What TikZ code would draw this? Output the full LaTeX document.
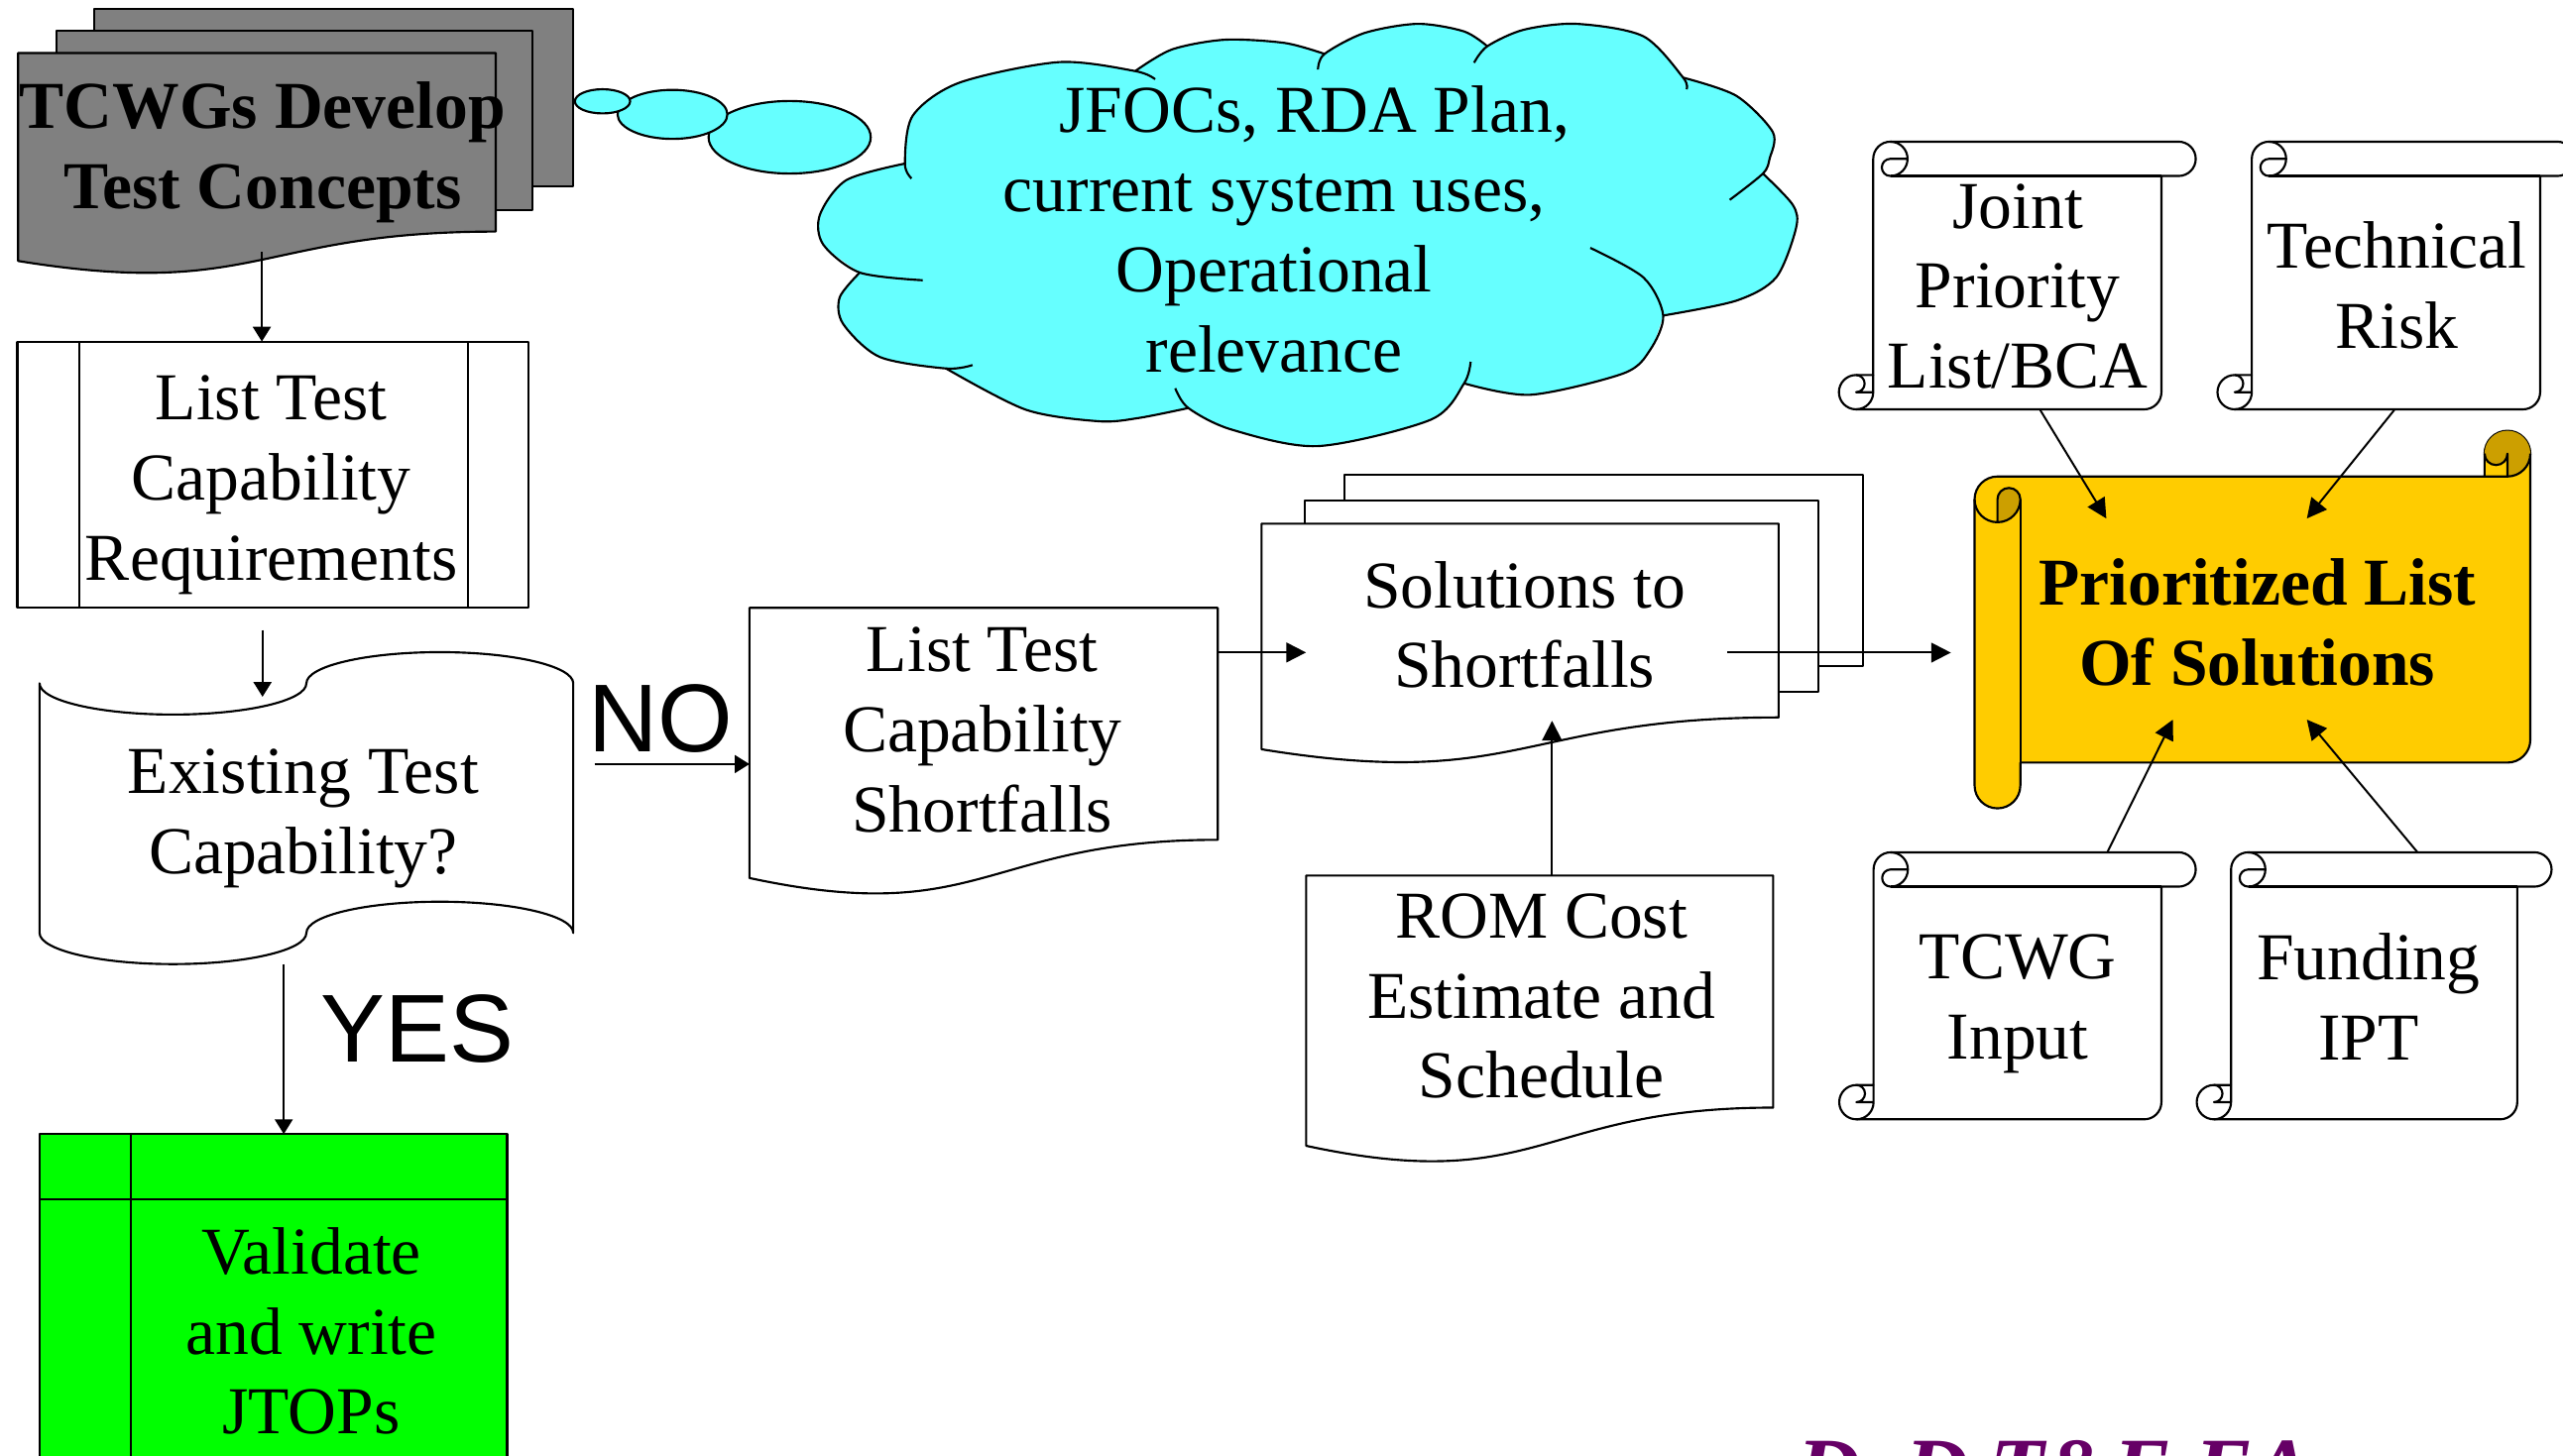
\documentclass[tikz,border=0pt]{standalone}
\usepackage{fontspec}
\setmainfont{Liberation Serif}
\newfontfamily\sansfont{Liberation Sans}
\usetikzlibrary{arrows.meta}

\definecolor{sheetgray}{HTML}{808080}
\definecolor{bubble}{HTML}{66FFFF}
\definecolor{scrollgold}{HTML}{FFCC00}
\definecolor{scrolldark}{HTML}{CC9F00}
\definecolor{storegreen}{HTML}{00FF00}
\definecolor{agency}{HTML}{660066}

% flowchart "document": left, top, right, height
\newcommand\docshape[5]{%
  \path[#1] (#2,#3) -- (#4,#3) -- (#4,{#3+0.802*#5})
    .. controls ({(#2+#4)/2},{#3+0.802*#5}) and ({(#2+#4)/2},{#3+1.1075*#5}) ..
    (#2,{#3+0.934*#5}) -- cycle;}

% vertical scroll: left, top, right, bottom
\newcommand\vscroll[4]{%
  \path[outline, fill=white] ({#1+21},{#4-21}) -- ({#1+21},{#2+10.5})
    arc[start angle=180,end angle=270,radius=10.5] -- ({#3-10.5},#2)
    arc[start angle=270,end angle=450,radius=10.5] -- ({#3-21},{#2+21})
    -- ({#3-21},{#4-10.5}) arc[start angle=0,end angle=90,radius=10.5]
    -- ({#1+10.5},#4) arc[start angle=90,end angle=270,radius=10.5] -- cycle;
  \draw[outline] ({#1+31.5},#2) arc[start angle=270,end angle=450,radius=10.5]
    arc[start angle=90,end angle=270,radius=5.25] -- ({#1+42},{#2+10.5});
  \draw[outline] ({#3-21},{#2+21}) -- ({#1+31.5},{#2+21});
  \draw[outline] ({#1+10.5},{#4-21}) arc[start angle=-90,end angle=90,radius=5.25]
    -- ({#1+21},{#4-10.5});
  \draw[outline] ({#1+10.5},#4) arc[start angle=90,end angle=0,radius=10.5]
    -- ({#1+21},{#4-21});}

\begin{document}
\begin{tikzpicture}[x=0.5pt, y=-0.5pt,
  outline/.style={line width=0.65pt, draw=black, line join=round},
  txt/.style={align=center, inner sep=0pt, font=\fontsize{20.5}{24.5}\selectfont,
    execute at begin node=\strut, execute at end node=\strut},
  boldtxt/.style={txt, font=\bfseries\fontsize{20.5}{24.5}\selectfont},
  flow/.style={line width=0.6pt, -{Triangle[length=6pt,width=6pt]}},
  thinflow/.style={line width=0.5pt, -{Triangle[length=4.5pt,width=5.5pt]}},
  answer/.style={font=\sansfont\fontsize{29.5}{29.5}\selectfont, inner sep=0pt, anchor=base west},
]
\useasboundingbox (0,0) rectangle (1568,891);
\clip (0,0) rectangle (1568,891);

% ---- thought bubbles and cloud ----
\filldraw[outline, fill=bubble] (483.1,84) ellipse[x radius=49.6, y radius=22.2];
\filldraw[outline, fill=bubble] (411.4,70) ellipse[x radius=33.6, y radius=15];
\filldraw[outline, fill=bubble] (368.6,62) ellipse[x radius=16.9, y radius=7.4];

\fill[bubble]
  plot[smooth] coordinates {(553.6,100.1) (558.4,70.8) (586.9,50.6) (647.8,38.0) (694.5,43.5)}
  -- plot[smooth] coordinates {(694.5,43.5) (716.9,30.3) (749.4,24.3) (786,26.3) (810.3,33)}
  -- plot[smooth] coordinates {(810.3,33) (834.7,20.2) (867.2,14.6) (895.6,19.2) (909.9,28.3)}
  -- plot[smooth] coordinates {(909.9,28.3) (932.2,18.2) (964.7,14.6) (1005.4,22.2) (1029.7,47.5)}
  -- plot[smooth] coordinates {(1029.7,47.5) (1062.2,58.6) (1084.6,80.9) (1082.6,97.1) (1078.5,106.2)}
  -- plot[smooth] coordinates {(1078.5,106.2) (1096.8,125.4) (1098.8,139.5) (1086.6,169.8) (1062.2,184) (1017.5,193.1)}
  -- plot[smooth] coordinates {(1017.5,193.1) (1009.4,214.3) (993.2,228.5) (936.3,241.6) (895.7,234.6)}
  -- plot[smooth] coordinates {(895.7,234.6) (875.4,256.8) (806.3,273) (753.5,262.9) (727.0,249.7)}
  -- plot[smooth] coordinates {(727,249.7) (696.6,255.8) (672.2,257.8) (627.5,250.7) (578.8,225.5)}
  -- plot[smooth] coordinates {(578.8,225.5) (538.1,218.4) (515.8,198.2) (513.7,182) (526,166.8)}
  -- plot[smooth] coordinates {(526,166.8) (503.6,149.6) (501.6,131.4) (517.8,110.2) (553.6,100.1)}
  -- cycle;
\draw[outline] plot[smooth] coordinates {(557.6,109.2) (553.6,100.1) (558.4,70.8) (586.9,50.6) (647.8,38.0) (694.5,43.5) (706.7,48.5)};
\draw[outline] plot[smooth] coordinates {(694.5,43.5) (716.9,30.3) (749.4,24.3) (786,26.3) (810.3,33)};
\draw[outline] plot[smooth] coordinates {(806.3,42.5) (810.3,33) (834.7,20.2) (867.2,14.6) (895.6,19.2) (909.9,28.3)};
\draw[outline] plot[smooth] coordinates {(901.8,38.4) (909.9,28.3) (932.2,18.2) (964.7,14.6) (1005.4,22.2) (1029.7,47.5) (1031.8,54.6)};
\draw[outline] plot[smooth] coordinates {(1029.7,47.5) (1062.2,58.6) (1084.6,80.9) (1082.6,97.1) (1078.5,106.2) (1058.2,122.3)};
\draw[outline] plot[smooth] coordinates {(1078.5,106.2) (1096.8,125.4) (1098.8,139.5) (1086.6,169.8) (1062.2,184) (1017.5,193.1)};
\draw[outline] plot[smooth] coordinates {(972.9,151.7) (1005.4,169.8) (1017.5,193.1) (1009.4,214.3) (993.2,228.5) (936.3,241.6) (895.7,234.6)};
\draw[outline] plot[smooth] coordinates {(899.7,221.4) (895.7,234.6) (875.4,256.8) (806.3,273) (753.5,262.9) (727.0,249.7) (719,237.6)};
\draw[outline] plot[smooth] coordinates {(727,249.7) (696.6,255.8) (672.2,257.8) (627.5,250.7) (578.8,225.5)};
\draw[outline] plot[smooth] coordinates {(526,166.8) (513.7,182) (515.8,198.2) (538.1,218.4) (578.8,225.5) (595,223.4)};
\draw[outline] plot[smooth] coordinates {(564.5,171.5) (526,166.8) (503.6,149.6) (501.6,131.4) (517.8,110.2) (553.6,100.1)};

% ---- grey document stack ----
\filldraw[outline, fill=sheetgray] (57.5,5.5) rectangle (350.6,114.2);
\filldraw[outline, fill=sheetgray] (34.8,18.6) rectangle (325.6,128.4);
\docshape{outline, fill=sheetgray}{11.1}{32.4}{303.3}{136.3}

% ---- predefined process ----
\filldraw[outline, fill=white] (10.6,209) rectangle (323.1,372);
\draw[outline] (48.4,209) -- (48.4,372) (286.4,209) -- (286.4,372);

% ---- punched tape decision ----
\filldraw[outline, fill=white] (24.2,418.19)
  arc[start angle=180, end angle=0, x radius=81.625, y radius=19.09]
  arc[start angle=180, end angle=360, x radius=81.625, y radius=19.09]
  -- (350.7,570.91)
  arc[start angle=0, end angle=-180, x radius=81.625, y radius=19.09]
  arc[start angle=0, end angle=180, x radius=81.625, y radius=19.09]
  -- cycle;

% ---- documents ----
\docshape{outline, fill=white}{458.5}{372}{745}{177}
\filldraw[outline, fill=white] (822.7,290.5) rectangle (1139.5,407.8);
\filldraw[outline, fill=white] (798.3,306.2) rectangle (1112.4,423.6);
\docshape{outline, fill=white}{771.8}{320.5}{1088.1}{147.8}
\docshape{outline, fill=white}{799.1}{535.8}{1084.8}{177.1}

% ---- input scrolls ----
\vscroll{1125}{86.7}{1343.3}{250.5}
\vscroll{1356.6}{86.7}{1575}{250.5}
\vscroll{1125.2}{521.6}{1343.3}{685}
\vscroll{1343.9}{521.6}{1561}{685}

% ---- horizontal gold scroll ----
\filldraw[outline, fill=scrollgold] (1208,305.6) arc[start angle=180,end angle=270,radius=14]
  -- (1520,291.6) -- (1520,277.6) arc[start angle=180,end angle=360,radius=14]
  -- (1548,452.7) arc[start angle=0,end angle=90,radius=14]
  -- (1236,466.7) -- (1236,480.7) arc[start angle=0,end angle=180,radius=14] -- cycle;
\fill[scrolldark] (1222,319.6) arc[start angle=90,end angle=0,radius=14]
  arc[start angle=0,end angle=-180,radius=7] -- cycle;
\fill[scrolldark] (1534,291.6) arc[start angle=90,end angle=-180,radius=14]
  arc[start angle=180,end angle=0,radius=7] -- cycle;
\draw[outline] (1520,291.6) -- (1534,291.6) arc[start angle=90,end angle=0,radius=14];
\draw[outline] (1534,291.6) -- (1534,277.6) arc[start angle=0,end angle=180,radius=7];
\draw[outline] (1222,319.6) -- (1222,305.6) arc[start angle=180,end angle=360,radius=7]
  arc[start angle=0,end angle=180,radius=14];
\draw[outline] (1236,305.6) -- (1236,466.7);

% ---- internal storage ----
\filldraw[outline, fill=storegreen] (24.4,694) rectangle (310.3,905);
\draw[outline] (80,694) -- (80,905) (24.4,734) -- (310.3,734);

% ---- texts ----
\node[boldtxt] (tcwgs) at (160.7,96) {TCWGs Develop\\Test Concepts};
\node[txt] (cloudtxt) at (779.5,147.4) {\hspace*{24.7pt}JFOCs, RDA Plan,\\current system uses,\\Operational\\relevance};
\node[txt] (reqs) at (166,299.8) {List Test\\Capability\\Requirements};
\node[txt] (exist) at (185.5,503.8) {Existing Test\\Capability?};
\node[txt] (shortf) at (601,454) {List Test\\Capability\\Shortfalls};
\node[txt] (solut) at (932.7,389.5) {Solutions to\\Shortfalls};
\node[txt] (rom) at (943,616.8) {ROM Cost\\Estimate and\\Schedule};
\node[boldtxt] (prio) at (1381,388) {Prioritized List\\Of Solutions};
\node[txt] (joint) at (1234.5,182.3) {Joint\\Priority\\List/BCA};
\node[txt] (risk) at (1466.5,181.9) {Technical\\Risk};
\node[txt] (tcwg) at (1234.5,617.5) {TCWG\\Input};
\node[txt] (fund) at (1449,617.5) {Funding\\IPT};
\node[txt] (jtops) at (190.5,821.7) {Validate\\and write\\JTOPs};
\node[answer] (no) at (359.4,460) {NO};
\node[answer] (yes) at (196,650) {YES};
\node[font=\bfseries\itshape\fontsize{27}{27}\selectfont, text=agency, anchor=base west, inner sep=0pt]
  (agencytag) at (1099,917.6) {DoD T\&E EA};

% ---- connector ends ----
\coordinate (tcwgs-out) at (160.2,154.3);
\coordinate (reqs-in) at (160.2,209);
\coordinate (reqs-out) at (160.6,385.6);
\coordinate (exist-in) at (160.6,426.4);
\coordinate (no-from) at (363.7,467.6);
\coordinate (shortf-in) at (458.5,467.6);
\coordinate (yes-from) at (173.6,590);
\coordinate (jtops-in) at (173.6,694);
\coordinate (shortf-out) at (745,399.3);
\coordinate (solut-in) at (799,399.3);
\coordinate (solut-out) at (1056.8,399.4);
\coordinate (prio-in) at (1193.5,399.4);
\coordinate (rom-out) at (949.5,535.8);
\coordinate (solut-base) at (949.5,441.1);
\coordinate (joint-out) at (1248.2,251);
\coordinate (prio-nw) at (1288.6,317.3);
\coordinate (risk-out) at (1464.7,251);
\coordinate (prio-ne) at (1411.3,317.3);
\coordinate (tcwg-out) at (1289.2,521.6);
\coordinate (prio-sw) at (1329.3,440.4);
\coordinate (fund-out) at (1479,521.6);
\coordinate (prio-se) at (1411.3,440.4);

% ---- connectors ----
\draw[thinflow] (tcwgs-out) -- (reqs-in);
\draw[thinflow] (reqs-out) -- (exist-in);
\draw[thinflow] (no-from) -- (shortf-in);
\draw[thinflow] (yes-from) -- (jtops-in);
\draw[flow] (shortf-out) -- (solut-in);
\draw[flow] (solut-out) -- (prio-in);
\draw[flow] (rom-out) -- (solut-base);
\draw[flow] (joint-out) -- (prio-nw);
\draw[flow] (risk-out) -- (prio-ne);
\draw[flow] (tcwg-out) -- (prio-sw);
\draw[flow] (fund-out) -- (prio-se);
\end{tikzpicture}
\end{document}
